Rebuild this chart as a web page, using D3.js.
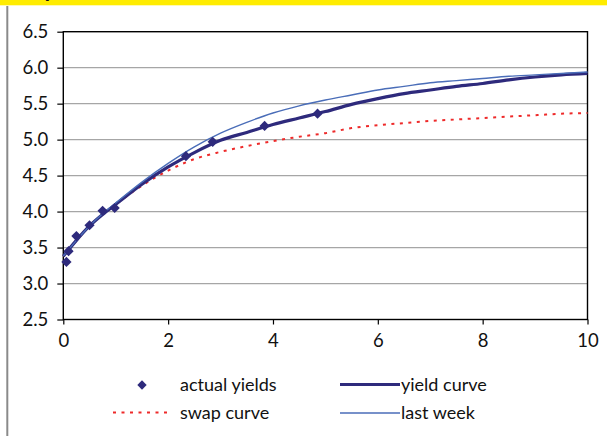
<!DOCTYPE html>
<html><head><meta charset="utf-8">
<script src="https://cdn.jsdelivr.net/npm/d3@7"></script>
<style>body{margin:0;background:#fff}svg{display:block}text{font-family:Lato,"Open Sans",sans-serif;fill:#111}</style>
</head><body>
<svg id="c" width="607" height="436"></svg>
<script>
const maturities = [0, 0.25, 0.5, 0.75, 1, 1.5, 2, 2.5, 3, 3.5, 4, 4.5, 5, 5.5, 6, 6.5, 7, 7.5, 8, 8.5, 9, 9.5, 10];
const yieldCurve = [3.38, 3.6, 3.8, 3.96, 4.1, 4.38, 4.62, 4.82, 4.99, 5.1, 5.21, 5.3, 5.39, 5.49, 5.57, 5.64, 5.69, 5.74, 5.78, 5.83, 5.87, 5.9, 5.92];
const lastWeek = [3.38, 3.6, 3.8, 3.97, 4.12, 4.41, 4.67, 4.9, 5.09, 5.24, 5.37, 5.47, 5.55, 5.62, 5.69, 5.74, 5.79, 5.82, 5.85, 5.88, 5.9, 5.92, 5.94];
const swapCurve = [3.38, 3.6, 3.8, 3.96, 4.1, 4.36, 4.57, 4.73, 4.83, 4.91, 4.98, 5.04, 5.09, 5.16, 5.2, 5.23, 5.26, 5.28, 5.3, 5.32, 5.34, 5.36, 5.37];
const actualX = [0.06, 0.1, 0.25, 0.5, 0.75, 0.98, 2.34, 2.85, 3.84, 4.85];
const actualY = [3.3, 3.45, 3.66, 3.81, 4.01, 4.05, 4.77, 4.97, 5.19, 5.36];
const xTicks = [0, 2, 4, 6, 8, 10];
const yTicks = [2.5, 3.0, 3.5, 4.0, 4.5, 5.0, 5.5, 6.0, 6.5];

const svg = d3.select("#c");
const x = d3.scaleLinear().domain([0, 10]).range([63.3, 587.5]);
const y = d3.scaleLinear().domain([2.5, 6.5]).range([319.5, 31.7]);

// top yellow band (title above is cut off; only a descender shows) and page border
svg.append("rect").attr("x", 0).attr("y", 0).attr("width", 607).attr("height", 5.3).attr("fill", "#ffec00");
svg.append("text").attr("x", 43).attr("y", -3).attr("font-size", 24).attr("font-weight", "bold").attr("fill", "#222").text("y");
svg.append("line").attr("x1", 7.3).attr("x2", 7.3).attr("y1", 6).attr("y2", 436).attr("stroke", "#8a8a8a").attr("stroke-width", 2);

// grid
svg.append("g").selectAll("line").data(yTicks.filter(v => v > 2.5 && v < 6.5)).join("line")
  .attr("x1", x(0)).attr("x2", x(10)).attr("y1", d => y(d)).attr("y2", d => y(d))
  .attr("stroke", "#a6a6a6").attr("stroke-width", 1.3);

// frame
svg.append("rect").attr("x", x(0)).attr("y", y(6.5)).attr("width", x(10) - x(0)).attr("height", y(2.5) - y(6.5))
  .attr("fill", "none").attr("stroke", "#000").attr("stroke-width", 1.4);

// axes
const yAxis = svg.append("g").attr("transform", `translate(${x(0)},0)`)
  .call(d3.axisLeft(y).tickValues(yTicks).tickFormat(d3.format(".1f")).tickSize(6).tickPadding(9));
const xAxis = svg.append("g").attr("transform", `translate(0,${y(2.5)})`)
  .call(d3.axisBottom(x).tickValues(xTicks).tickFormat(d3.format("d")).tickSize(5).tickPadding(9));
[yAxis, xAxis].forEach(g => {
  g.select(".domain").remove();
  g.selectAll(".tick line").attr("stroke", "#000").attr("stroke-width", 1.2);
  g.selectAll(".tick text").attr("font-size", 18.5).attr("fill", "#111").style("font-family", "Lato, sans-serif");
});

const line = d3.line().x(d => x(d[0])).y(d => y(d[1])).curve(d3.curveMonotoneX);
const series = (vals) => maturities.map((m, i) => [m, vals[i]]);

svg.append("path").datum(series(swapCurve)).attr("d", line).attr("fill", "none")
  .attr("stroke", "#ee2a2a").attr("stroke-width", 2).attr("stroke-dasharray", "3,5.5");
svg.append("path").datum(series(yieldCurve)).attr("d", line).attr("fill", "none")
  .attr("stroke", "#2e2a7c").attr("stroke-width", 3.2);
svg.append("path").datum(series(lastWeek)).attr("d", line).attr("fill", "none")
  .attr("stroke", "#4a6db8").attr("stroke-width", 1.4);

svg.append("g").selectAll("path").data(actualX.map((v, i) => [v, actualY[i]])).join("path")
  .attr("d", d3.symbol().type(d3.symbolSquare).size(52))
  .attr("transform", d => `translate(${x(d[0])},${y(d[1])}) rotate(45)`)
  .attr("fill", "#2e2a7c");

// legend
const lg = svg.append("g");
lg.append("path").attr("d", d3.symbol().type(d3.symbolSquare).size(44))
  .attr("transform", "translate(142,385) rotate(45)").attr("fill", "#2e2a7c");
lg.append("line").attr("x1", 113).attr("x2", 169).attr("y1", 412.5).attr("y2", 412.5)
  .attr("stroke", "#ee2a2a").attr("stroke-width", 2).attr("stroke-dasharray", "3,5.5");
lg.append("line").attr("x1", 340).attr("x2", 400).attr("y1", 384.5).attr("y2", 384.5)
  .attr("stroke", "#2e2a7c").attr("stroke-width", 3.2);
lg.append("line").attr("x1", 340).attr("x2", 400).attr("y1", 413).attr("y2", 413)
  .attr("stroke", "#4a6db8").attr("stroke-width", 1.4);
const labels = [["actual yields", 180, 385], ["swap curve", 180, 413], ["yield curve", 401, 385], ["last week", 401, 413]];
lg.selectAll("text").data(labels).join("text")
  .attr("x", d => d[1]).attr("y", d => d[2]).attr("dy", "0.35em").attr("font-size", 18).text(d => d[0]);
</script>
</body></html>
